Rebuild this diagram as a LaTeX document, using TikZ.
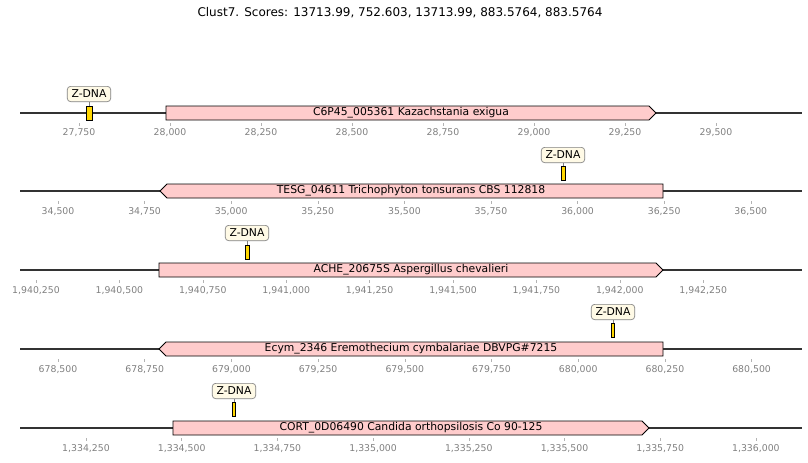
\documentclass[tikz,border=0pt]{standalone}
\usepackage{fontspec}
\setmainfont{DejaVu Sans}
\definecolor{genefill}{HTML}{FFCCCC}
\definecolor{zfill}{HTML}{FFD700}
\definecolor{notefill}{HTML}{FFFAE6}
\definecolor{axisgray}{HTML}{333333}
\definecolor{tickgray}{HTML}{808080}
\tikzset{
  track/.style={draw=axisgray,line width=1.2pt},
  gene/.style={draw=black,fill=genefill,line width=0.6pt},
  genetext/.style={font=\fontsize{8.1}{9}\selectfont,inner sep=0pt},
  zmark/.style={draw=black,fill=zfill,line width=0.5pt,inner sep=0pt,minimum height=10.5pt},
  znote/.style={draw=tickgray,fill=notefill,rounded corners=2.5pt,line width=0.5pt,
    font=\fontsize{8.1}{9}\selectfont,inner xsep=3.2pt,inner ysep=2.8pt},
  tickmark/.style={draw=tickgray!60,line width=0.4pt},
  ticklabel/.style={font=\fontsize{7}{8}\selectfont,text=tickgray,inner sep=0pt}
}
\begin{document}
\begin{tikzpicture}[x=0.75pt,y=-0.75pt]
\useasboundingbox (0,0) rectangle (808,462);
\node[font=\fontsize{9}{10}\selectfont] (title) at (400,13) {Clust7. Scores: 13713.99, 752.603, 13713.99, 883.5764, 883.5764};

% row 1
\draw[track] (20,113) -- (802,113);
\draw[gene] (166,106) -- (649,106) -- (656,113) -- (649,120) -- (166,120) -- cycle;
\node[genetext] (gene1) at (411,113) {C6P45\_005361 Kazachstania exigua};
\foreach \i/\t in {0/{27,750},1/{28,000},2/{28,250},3/{28,500},4/{28,750},5/{29,000},6/{29,250},7/{29,500}} {
  \draw[tickmark] (79+\i*91,123) -- (79+\i*91,126);
  \node[ticklabel] at (79+\i*91,133) {\t};
}
\node[zmark,minimum width=4.5pt] (zmk1) at (89,113) {};
\node[znote] (zlb1) at (89,94) {Z-DNA};
\draw[tickgray,line width=0.5pt] (zlb1) -- (zmk1);

% row 2
\draw[track] (20,191) -- (802,191);
\draw[gene] (663,184) -- (167,184) -- (160,191) -- (167,198) -- (663,198) -- cycle;
\node[genetext] (gene2) at (411,191) {TESG\_04611 Trichophyton tonsurans CBS 112818};
\foreach \i/\t in {0/{34,500},1/{34,750},2/{35,000},3/{35,250},4/{35,500},5/{35,750},6/{36,000},7/{36,250},8/{36,500}} {
  \draw[tickmark] (58+\i*86.6,201) -- (58+\i*86.6,204);
  \node[ticklabel] at (58+\i*86.6,212) {\t};
}
\node[zmark,minimum width=3pt] (zmk2) at (563,173) {};
\node[znote] (zlb2) at (563,155) {Z-DNA};
\draw[tickgray,line width=0.5pt] (zlb2) -- (zmk2);

% row 3
\draw[track] (20,270) -- (802,270);
\draw[gene] (159,263) -- (656,263) -- (663,270) -- (656,277) -- (159,277) -- cycle;
\node[genetext] (gene3) at (411,270) {ACHE\_20675S Aspergillus chevalieri};
\foreach \i/\t in {0/{1,940,250},1/{1,940,500},2/{1,940,750},3/{1,941,000},4/{1,941,250},5/{1,941,500},6/{1,941,750},7/{1,942,000},8/{1,942,250}} {
  \draw[tickmark] (36+\i*83.4,280) -- (36+\i*83.4,283);
  \node[ticklabel] at (36+\i*83.4,291) {\t};
}
\node[zmark,minimum width=3pt] (zmk3) at (247,252) {};
\node[znote] (zlb3) at (247,233) {Z-DNA};
\draw[tickgray,line width=0.5pt] (zlb3) -- (zmk3);

% row 4
\draw[track] (20,349) -- (802,349);
\draw[gene] (663,342) -- (166,342) -- (159,349) -- (166,356) -- (663,356) -- cycle;
\node[genetext] (gene4) at (411,349) {Ecym\_2346 Eremothecium cymbalariae DBVPG\#7215};
\foreach \i/\t in {0/{678,500},1/{678,750},2/{679,000},3/{679,250},4/{679,500},5/{679,750},6/{680,000},7/{680,250},8/{680,500}} {
  \draw[tickmark] (58+\i*86.7,359) -- (58+\i*86.7,362);
  \node[ticklabel] at (58+\i*86.7,370) {\t};
}
\node[zmark,minimum width=2.5pt] (zmk4) at (613,330) {};
\node[znote] (zlb4) at (613,312) {Z-DNA};
\draw[tickgray,line width=0.5pt] (zlb4) -- (zmk4);

% row 5
\draw[track] (20,428) -- (802,428);
\draw[gene] (173,421) -- (642,421) -- (649,428) -- (642,435) -- (173,435) -- cycle;
\node[genetext] (gene5) at (411,428) {CORT\_0D06490 Candida orthopsilosis Co 90-125};
\foreach \i/\t in {0/{1,334,250},1/{1,334,500},2/{1,334,750},3/{1,335,000},4/{1,335,250},5/{1,335,500},6/{1,335,750},7/{1,336,000}} {
  \draw[tickmark] (86+\i*95.7,438) -- (86+\i*95.7,441);
  \node[ticklabel] at (86+\i*95.7,449) {\t};
}
\node[zmark,minimum width=2.5pt] (zmk5) at (234,409) {};
\node[znote] (zlb5) at (234,391) {Z-DNA};
\draw[tickgray,line width=0.5pt] (zlb5) -- (zmk5);
\end{tikzpicture}
\end{document}
